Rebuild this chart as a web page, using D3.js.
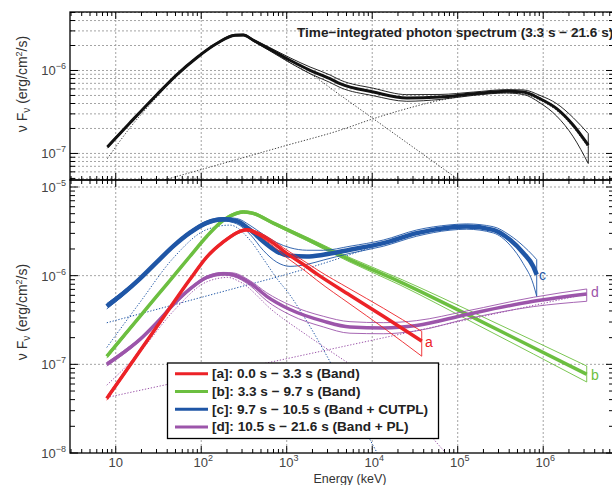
<!DOCTYPE html>
<html>
<head>
<meta charset="utf-8">
<script src="https://cdn.jsdelivr.net/npm/d3@7"></script>
<style>
  body { margin: 0; background: #fff; }
  svg { display: block; font-family: "Liberation Sans", Arial, sans-serif; }
</style>
</head>
<body>
<svg width="612" height="485"></svg>
<script>
// values are log10(E/keV) and log10(nuFnu / erg cm^-2 s^-1)

// top panel: time-integrated spectrum (Band + CUTPL)
var topLogE = [0.902,1.167,1.480,1.713,1.947,2.181,2.395,2.492,2.609,2.805,3.038,3.273,3.506,3.623,4.013,4.404,4.793,5.182,5.573,5.767,5.962,6.158,6.352,6.527];
var topLogF = [-6.922,-6.63,-6.292,-6.052,-5.846,-5.675,-5.575,-5.572,-5.636,-5.745,-5.877,-5.998,-6.099,-6.159,-6.259,-6.331,-6.319,-6.280,-6.251,-6.259,-6.340,-6.460,-6.660,-6.901];
var topErrUp = [0.015,0.01,0.01,0.01,0.01,0.01,0.01,0.01,0.012,0.02,0.03,0.04,0.045,0.045,0.045,0.04,0.03,0.02,0.02,0.025,0.04,0.06,0.09,0.14];
var topErrLo = [0.015,0.01,0.01,0.01,0.01,0.01,0.01,0.01,0.012,0.02,0.03,0.04,0.045,0.045,0.045,0.04,0.03,0.02,0.02,0.03,0.05,0.09,0.14,0.22];
var topBandLogE = [0.902,1.167,1.480,1.713,1.947,2.181,2.395,2.492,2.609,2.805,3.038,3.273,3.623,4.988,5.6];
var topBandLogF = [-7.063,-6.69,-6.32,-6.06,-5.85,-5.68,-5.578,-5.575,-5.64,-5.758,-5.905,-6.039,-6.295,-7.30,-7.75];
var topCutLogE = [0.902,2.0,3.0,3.623,4.013,4.404,4.793,5.182,5.573,5.767,5.962,6.158,6.352,6.527];
var topCutLogF = [-7.51,-7.194,-6.902,-6.72,-6.581,-6.46,-6.359,-6.295,-6.27,-6.282,-6.36,-6.482,-6.685,-6.93];

// [a] 0.0-3.3 s Band
var aLogE = [0.895,1.089,1.480,1.869,2.064,2.258,2.454,2.532,2.649,2.843,2.960,3.234,3.351,3.740,4.130,4.579];
var aLogF = [-7.385,-7.117,-6.577,-6.041,-5.79,-5.62,-5.50,-5.483,-5.520,-5.633,-5.72,-5.90,-5.98,-6.22,-6.457,-6.738];
var aErrUp = [0.02,0.02,0.015,0.015,0.015,0.015,0.015,0.015,0.02,0.03,0.035,0.045,0.05,0.07,0.09,0.11];
var aErrLo = [0.02,0.02,0.015,0.015,0.015,0.015,0.015,0.015,0.02,0.035,0.045,0.06,0.07,0.10,0.13,0.17];

// [b] 3.3-9.7 s Band
var bLogE = [0.895,1.089,1.284,1.480,1.674,1.869,2.064,2.258,2.415,2.492,2.609,2.843,3.234,3.740,4.325,5.261,6.509];
var bLogF = [-6.910,-6.685,-6.459,-6.232,-6.007,-5.781,-5.558,-5.375,-5.296,-5.281,-5.298,-5.408,-5.585,-5.822,-6.07,-6.51,-7.112];
var bErrUp = [0.02,0.02,0.015,0.015,0.015,0.015,0.015,0.015,0.015,0.015,0.015,0.015,0.02,0.025,0.035,0.06,0.093];
var bErrLo = [0.02,0.02,0.015,0.015,0.015,0.015,0.015,0.015,0.015,0.015,0.015,0.015,0.02,0.025,0.035,0.06,0.087];

// [c] 9.7-10.5 s Band + CUTPL
var cLogE = [0.895,1.089,1.284,1.480,1.674,1.869,2.064,2.258,2.415,2.571,2.726,2.883,3.039,3.234,3.428,3.740,4.130,4.520,4.910,5.105,5.416,5.612,5.767,5.884,5.924];
var cLogF = [-6.345,-6.199,-6.033,-5.847,-5.667,-5.515,-5.404,-5.364,-5.385,-5.483,-5.615,-5.727,-5.775,-5.783,-5.764,-5.708,-5.633,-5.520,-5.457,-5.446,-5.483,-5.596,-5.745,-5.896,-5.989];
var cErrUp = [0.03,0.025,0.02,0.02,0.02,0.02,0.02,0.02,0.03,0.05,0.08,0.10,0.09,0.07,0.05,0.04,0.035,0.035,0.03,0.03,0.035,0.05,0.08,0.12,0.17];
var cErrLo = [0.03,0.025,0.02,0.02,0.02,0.02,0.02,0.02,0.03,0.05,0.10,0.12,0.12,0.09,0.06,0.04,0.035,0.035,0.03,0.03,0.035,0.06,0.12,0.20,0.244];
var cBandLogE = [0.895,1.284,1.674,2.064,2.337,2.571,2.726,2.883,3.039,3.194,3.662,4.013,4.3];
var cBandLogF = [-6.81,-6.30,-5.80,-5.48,-5.43,-5.60,-5.81,-6.03,-6.22,-6.45,-7.25,-7.92,-8.4];
var cCutLogE = [0.895,1.5,2.0,2.5,3.0,3.5,4.0,4.52,4.91,5.105,5.416,5.612,5.767,5.884,5.924];
var cCutLogF = [-6.531,-6.375,-6.245,-6.115,-5.985,-5.84,-5.68,-5.535,-5.465,-5.452,-5.49,-5.60,-5.75,-5.90,-5.99];

// [d] 10.5-21.6 s Band + PL
var dLogE = [0.895,1.089,1.284,1.480,1.674,1.869,2.064,2.258,2.375,2.571,2.766,3.039,3.428,3.740,4.130,4.520,5.105,5.884,6.509];
var dLogF = [-7.000,-6.869,-6.719,-6.531,-6.326,-6.15,-6.02,-5.978,-5.989,-6.082,-6.233,-6.382,-6.513,-6.579,-6.590,-6.562,-6.438,-6.289,-6.206];
var dErrUp = [0.02,0.02,0.015,0.015,0.015,0.015,0.015,0.015,0.02,0.025,0.04,0.05,0.055,0.06,0.06,0.055,0.04,0.045,0.056];
var dErrLo = [0.02,0.02,0.015,0.015,0.015,0.015,0.015,0.015,0.02,0.03,0.05,0.06,0.065,0.07,0.065,0.06,0.05,0.06,0.083];
var dBandLogE = [0.895,1.284,1.674,2.064,2.31,2.454,2.843,3.234,3.740,4.2,4.851,5.1];
var dBandLogF = [-7.235,-6.86,-6.40,-6.07,-6.02,-6.07,-6.40,-6.67,-7.0,-7.30,-7.989,-8.25];
var dPlLogE = [0.895,6.509];
var dPlLogF = [-7.374,-6.206];

var legendLabels = ["[a]: 0.0 s \u2212 3.3 s (Band)", "[b]: 3.3 s \u2212 9.7 s (Band)",
                    "[c]: 9.7 s \u2212 10.5 s (Band + CUTPL)", "[d]: 10.5 s \u2212 21.6 s (Band + PL)"];
var endLabels = ["a", "b", "c", "d"];
var xLabelExps = [1, 2, 3, 4, 5, 6];
var topYLabelExps = [-6, -7];
var botYLabelExps = [-5, -6, -7, -8];
var titleText = "Time\u2212integrated photon spectrum (3.3 s \u2212 21.6 s)";

// layout
var L = 70, R = 614, topT = 12, topB = 180, botT = 180, botB = 453;
var colors = { a: "#ec2227", b: "#6cbf40", c: "#1f56a6", d: "#9c55aa" };
var gridColor = "#9a9a9a";

var svg = d3.select("svg");

var x = d3.scaleLog().domain([Math.pow(10, 0.465), Math.pow(10, 6.828)]).range([L, R]);
var yTop = d3.scaleLog().domain([Math.pow(10, -7.32), Math.pow(10, -5.295)]).range([topB, topT]);
var yBot = d3.scaleLog().domain([1e-8, Math.pow(10, -4.921)]).range([botB, botT]);

function isMajor(t) {
    var l = Math.log10(t);
    return Math.abs(l - Math.round(l)) < 1e-6;
}

// clip paths
var defs = svg.append("defs");
defs.append("clipPath").attr("id", "clipTop").append("rect")
    .attr("x", L).attr("y", topT).attr("width", R - L).attr("height", topB - topT);
defs.append("clipPath").attr("id", "clipBot").append("rect")
    .attr("x", L).attr("y", botT).attr("width", R - L).attr("height", botB - botT);

//Grid lines
var grid = svg.append("g").attr("stroke", gridColor).attr("stroke-width", 0.9)
    .attr("stroke-dasharray", "2,2").attr("fill", "none");
x.ticks().filter(isMajor).forEach(function(t) {
    var px = x(t);
    grid.append("line").attr("x1", px).attr("x2", px).attr("y1", topT).attr("y2", topB);
    grid.append("line").attr("x1", px).attr("x2", px).attr("y1", botT).attr("y2", botB);
});
yTop.ticks().forEach(function(t) {
    grid.append("line").attr("x1", L).attr("x2", R).attr("y1", yTop(t)).attr("y2", yTop(t));
});
yBot.ticks().filter(isMajor).forEach(function(t) {
    if (yBot(t) < botT + 2 || yBot(t) > botB - 2) return;
    grid.append("line").attr("x1", L).attr("x2", R).attr("y1", yBot(t)).attr("y2", yBot(t));
});

// curve helpers
var lineGen = d3.line().curve(d3.curveMonotoneX);

function pts(logE, logF, yScale, off, sign) {
    return logE.map(function(e, i) {
        var f = logF[i] + (off ? sign * off[i] : 0);
        return [x(Math.pow(10, e)), yScale(Math.pow(10, f))];
    });
}

function drawDotted(g, logE, logF, yScale, color) {
    g.append("path").attr("d", lineGen(pts(logE, logF, yScale)))
        .attr("fill", "none").attr("stroke", color).attr("stroke-width", 1)
        .attr("stroke-dasharray", "1.3,1.7");
}

function drawSeries(g, logE, logF, up, lo, yScale, color, width) {
    var upper = pts(logE, logF, yScale, up, 1);
    var lower = pts(logE, logF, yScale, lo, -1);
    var n = upper.length - 1;
    g.append("path").attr("d", lineGen(upper)).attr("fill", "none").attr("stroke", color).attr("stroke-width", 0.9);
    g.append("path").attr("d", lineGen(lower)).attr("fill", "none").attr("stroke", color).attr("stroke-width", 0.9);
    g.append("line").attr("x1", upper[n][0]).attr("y1", upper[n][1]).attr("x2", lower[n][0]).attr("y2", lower[n][1])
        .attr("stroke", color).attr("stroke-width", 0.9);
    g.append("path").attr("d", lineGen(pts(logE, logF, yScale))).attr("fill", "none")
        .attr("stroke", color).attr("stroke-width", width).attr("stroke-linecap", "butt");
}

// top panel curves
var gTop = svg.append("g").attr("clip-path", "url(#clipTop)");
drawDotted(gTop, topBandLogE, topBandLogF, yTop, "#444");
drawDotted(gTop, topCutLogE, topCutLogF, yTop, "#444");
drawSeries(gTop, topLogE, topLogF, topErrUp, topErrLo, yTop, "#111", 3);

// bottom panel curves
var gBot = svg.append("g").attr("clip-path", "url(#clipBot)");
drawDotted(gBot, cBandLogE, cBandLogF, yBot, colors.c);
drawDotted(gBot, cCutLogE, cCutLogF, yBot, colors.c);
drawDotted(gBot, dBandLogE, dBandLogF, yBot, colors.d);
drawDotted(gBot, dPlLogE, dPlLogF, yBot, colors.d);
drawSeries(gBot, bLogE, bLogF, bErrUp, bErrLo, yBot, colors.b, 3.5);
drawSeries(gBot, dLogE, dLogF, dErrUp, dErrLo, yBot, colors.d, 3.5);
drawSeries(gBot, cLogE, cLogF, cErrUp, cErrLo, yBot, colors.c, 4.5);
drawSeries(gBot, aLogE, aLogF, aErrUp, aErrLo, yBot, colors.a, 3.5);

// end labels
var endPos = [[425, 347], [591, 380], [539, 279.5], [591, 297]];
endLabels.forEach(function(k, i) {
    svg.append("text").attr("x", endPos[i][0]).attr("y", endPos[i][1]).attr("font-size", 14)
        .attr("fill", colors[k]).text(k);
});

// frames and ticks
var axes = svg.append("g").attr("stroke", "#000").attr("fill", "none");
axes.append("rect").attr("x", L).attr("y", topT).attr("width", R - L).attr("height", topB - topT).attr("stroke-width", 1.3);
axes.append("rect").attr("x", L).attr("y", botT).attr("width", R - L).attr("height", botB - botT).attr("stroke-width", 1.3);

function xTicks(y0, dir) {
    x.ticks().forEach(function(t) {
        var len = isMajor(t) ? 7 : 4;
        axes.append("line").attr("x1", x(t)).attr("x2", x(t)).attr("y1", y0).attr("y2", y0 + dir * len).attr("stroke-width", 1);
    });
}
xTicks(topT, 1);
xTicks(topB, -1);
xTicks(botT, 1);
xTicks(botB, -1);

function yTicks(scale, t0, t1) {
    scale.ticks().forEach(function(t) {
        var py = scale(t);
        if (py < t0 - 0.5 || py > t1 + 0.5) return;
        var len = isMajor(t) ? 8 : 5;
        axes.append("line").attr("x1", L).attr("x2", L + len).attr("y1", py).attr("y2", py).attr("stroke-width", 1);
        axes.append("line").attr("x1", R).attr("x2", R - len).attr("y1", py).attr("y2", py).attr("stroke-width", 1);
    });
}
yTicks(yTop, topT, topB);
yTicks(yBot, botT, botB);

// tick labels
function powLabel(px, py, exp, anchor) {
    var t = svg.append("text").attr("x", px).attr("y", py).attr("text-anchor", anchor)
        .attr("font-size", 13).attr("fill", "#444").text("10");
    if (exp !== 1) {
        t.append("tspan").attr("dy", -6).attr("font-size", 9)
            .text(String(exp).replace("-", "\u2212"));
    }
}
xLabelExps.forEach(function(e) { powLabel(x(Math.pow(10, e)) + (e === 1 ? 0 : 2), 467, e, "middle"); });
topYLabelExps.forEach(function(e) { powLabel(66, yTop(Math.pow(10, e)) + 5, e, "end"); });
botYLabelExps.forEach(function(e) { powLabel(66, yBot(Math.pow(10, e)) + 5, e, "end"); });

// axis titles
svg.append("text").attr("x", 350).attr("y", 483).attr("text-anchor", "middle")
    .attr("font-size", 12.5).attr("fill", "#333").text("Energy (keV)");

function yTitle(cy) {
    var t = svg.append("text").attr("transform", "translate(27," + cy + ") rotate(-90)")
        .attr("text-anchor", "middle").attr("font-size", 14).attr("fill", "#333");
    t.append("tspan").text("\u03bd F");
    t.append("tspan").attr("dy", 3).attr("font-size", 10).text("\u03bd");
    t.append("tspan").attr("dy", -3).text(" (erg/cm");
    t.append("tspan").attr("dy", -5).attr("font-size", 9).text("2");
    t.append("tspan").attr("dy", 5).text("/s)");
}
yTitle(84);
yTitle(312);

// title
svg.append("text").attr("x", 297).attr("y", 37).attr("font-size", 13.6).attr("font-weight", "bold")
    .attr("fill", "#222").text(titleText);

// legend
var leg = svg.append("g");
leg.append("rect").attr("x", 167.5).attr("y", 363).attr("width", 271).attr("height", 75.5)
    .attr("fill", "#fff").attr("stroke", "#000").attr("stroke-width", 1.3);
["a", "b", "c", "d"].forEach(function(k, i) {
    var ry = 373.8 + i * 17.7;
    leg.append("line").attr("x1", 175).attr("x2", 208).attr("y1", ry).attr("y2", ry)
        .attr("stroke", colors[k]).attr("stroke-width", 3);
    leg.append("text").attr("x", 212).attr("y", ry + 4.5).attr("font-size", 13.6)
        .attr("font-weight", "bold").attr("fill", "#222").text(legendLabels[i]);
});
</script>
</body>
</html>
